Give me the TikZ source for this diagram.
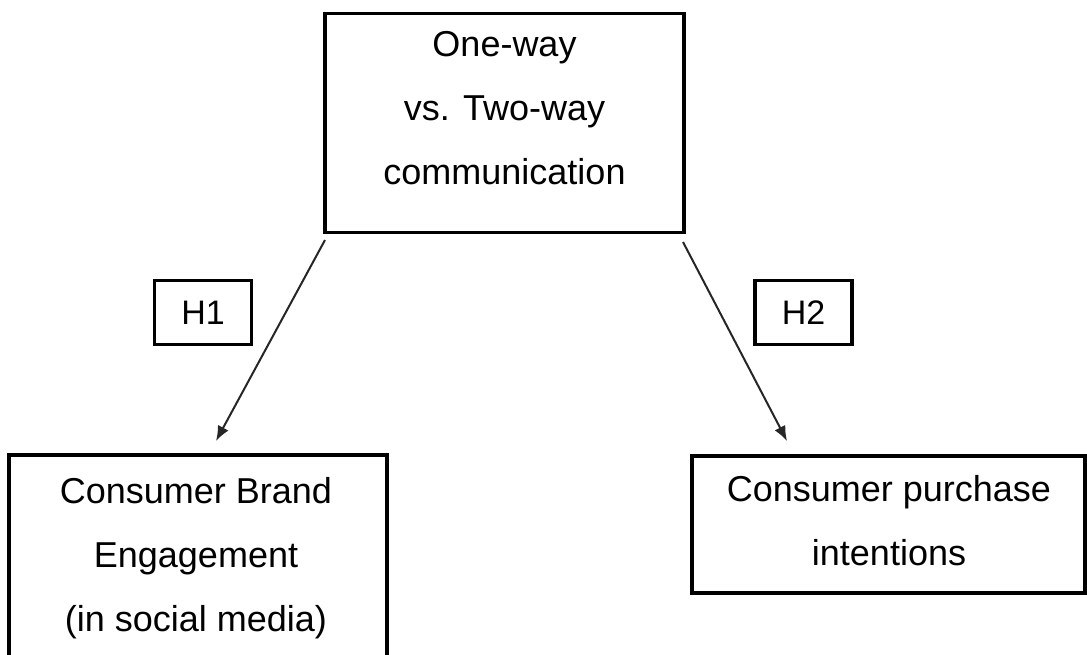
\documentclass[tikz,border=0pt]{standalone}
\usepackage{fontspec}
\setmainfont{Liberation Sans}
\usetikzlibrary{arrows.meta}
\begin{document}
\begin{tikzpicture}[x=1pt,y=-1pt,
  boxline/.style={draw=black,line width=3.2pt,inner sep=0pt,outer sep=0pt},
  txt/.style={align=center,inner sep=0pt,font=\fontsize{36}{64}\selectfont},
  hbox/.style={draw=black,line width=3.2pt,minimum width=97pt,minimum height=64pt,inner sep=0pt,font=\fontsize{34}{40}\selectfont},
  conn/.style={draw=black!85,line width=2pt,-{Latex[length=15pt,width=12pt]}}]
\useasboundingbox (0,0) rectangle (1087,655);
\clip (0,0) rectangle (1087,655);
% top box
\node[boxline,minimum width=359pt,minimum height=219pt] (top) at (504.5,123) {};
\node[txt] (toptxt) at (504.5,108) {One-way\\vs. Two-way\\communication};
% left box (open at bottom, runs off the page)
\node[boxline,minimum width=378pt,minimum height=240pt] (left) at (198,575) {};
\node[txt] (lefttxt) at (196,558) {Consumer Brand\\Engagement\\(in social media)};
% right box
\node[boxline,minimum width=393pt,minimum height=137pt] (right) at (888.5,524.5) {};
\node[txt] (righttxt) at (889,521) {Consumer purchase\\intentions};
% hypothesis labels
\node[hbox] (h1) at (203,312.5) {H1};
\node[hbox] (h2) at (803.5,312.5) {H2};
% connectors
\coordinate (s1) at (325,240);
\coordinate (e1) at (216,441);
\coordinate (s2) at (683,242);
\coordinate (e2) at (787,441);
\draw[conn] (s1) -- (e1);
\draw[conn] (s2) -- (e2);
\end{tikzpicture}
\end{document}
